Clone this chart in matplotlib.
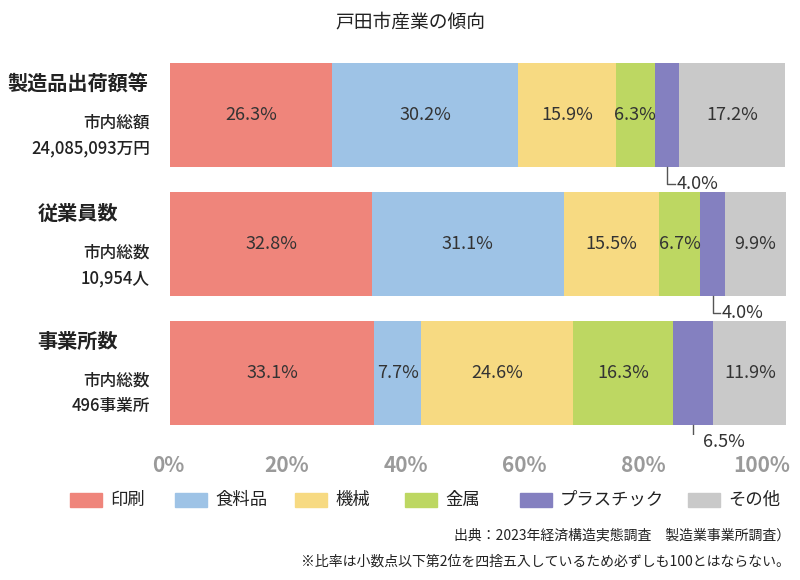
import matplotlib
matplotlib.use("Agg")
import matplotlib.pyplot as plt
from matplotlib.patches import Rectangle

plt.rcParams["font.family"] = "Noto Sans CJK JP"

title = "戸田市産業の傾向"
series = ["印刷", "食料品", "機械", "金属", "プラスチック", "その他"]
colors = ["#EF857B", "#9EC3E6", "#F7DA82", "#BDD762", "#8480C0", "#C9C9C9"]
cat_titles = ["製造品出荷額等", "従業員数", "事業所数"]
cat_sub1 = ["市内総額", "市内総数", "市内総数"]
cat_sub2 = ["24,085,093万円", "10,954人", "496事業所"]
values = [
    [26.3, 30.2, 15.9, 6.3, 4.0, 17.2],
    [32.8, 31.1, 15.5, 6.7, 4.0, 9.9],
    [33.1, 7.7, 24.6, 16.3, 6.5, 11.9],
]
xticks = [0, 20, 40, 60, 80, 100]
xticklabels = ["0%", "20%", "40%", "60%", "80%", "100%"]
note1 = "出典：2023年経済構造実態調査　製造業事業所調査）"
note2 = "※比率は小数点以下第2位を四捨五入しているため必ずしも100とはならない。"

W, H = 800, 580
fig = plt.figure(figsize=(8, 5.8), dpi=100)
ax = fig.add_axes([170 / W, 1 - 435 / H, 616 / W, 380 / H])
ax.set_xlim(0, 100)
ax.set_ylim(2.48, -0.465)
ax.axis("off")

txtc = "#333333"
for i, row in enumerate(values):
    left = 0
    for j, v in enumerate(row):
        ax.barh(i, v, left=left, height=0.81, color=colors[j], edgecolor="none")
        cx = left + v / 2
        if j == 4:
            yb = i + 0.405
            ax.plot([cx, cx, cx + 1.2], [yb, yb + 0.13, yb + 0.13], color="#555555", lw=1)
            ax.text(cx + 1.5, yb + 0.13, f"{v:.1f}%", va="center", ha="left", fontsize=13, color=txtc)
        else:
            ax.text(cx, i, f"{v:.1f}%", va="center", ha="center", fontsize=13, color=txtc)
        left += v

for x, lab in zip(xticks, xticklabels):
    xp = -0.3 + x * 0.964
    ax.text(xp, 2.72, lab, ha="center", va="center", fontsize=15, fontweight="bold", color="#9a9a9a")

ycent = [115, 245, 373]
for k in range(3):
    yc = ycent[k]
    fig.text(78 / W, 1 - (yc - 32) / H, cat_titles[k], ha="center", va="center", fontsize=14.5, fontweight="bold", color="#222222")
    fig.text(150 / W, 1 - (yc + 8) / H, cat_sub1[k], ha="right", va="center", fontsize=12, fontweight="medium", color="#222222")
    fig.text(150 / W, 1 - (yc + 33) / H, cat_sub2[k], ha="right", va="center", fontsize=12, fontweight="medium", color="#222222")

fig.text(410 / W, 1 - 22 / H, title, ha="center", va="center", fontsize=13.5, color="#222222")

legx = [70, 175, 295, 405, 520, 688]
for x, s, c in zip(legx, series, colors):
    fig.add_artist(Rectangle((x / W, 1 - 507 / H), 32 / W, 14 / H, color=c, transform=fig.transFigure))
    fig.text((x + 40) / W, 1 - 500 / H, s, ha="left", va="center", fontsize=12.5, color="#222222")

fig.text(790 / W, 1 - 535 / H, note1, ha="right", va="center", fontsize=10, color="#222222")
fig.text(790 / W, 1 - 562 / H, note2, ha="right", va="center", fontsize=10, color="#222222")

fig.savefig("out.png", dpi=100)
